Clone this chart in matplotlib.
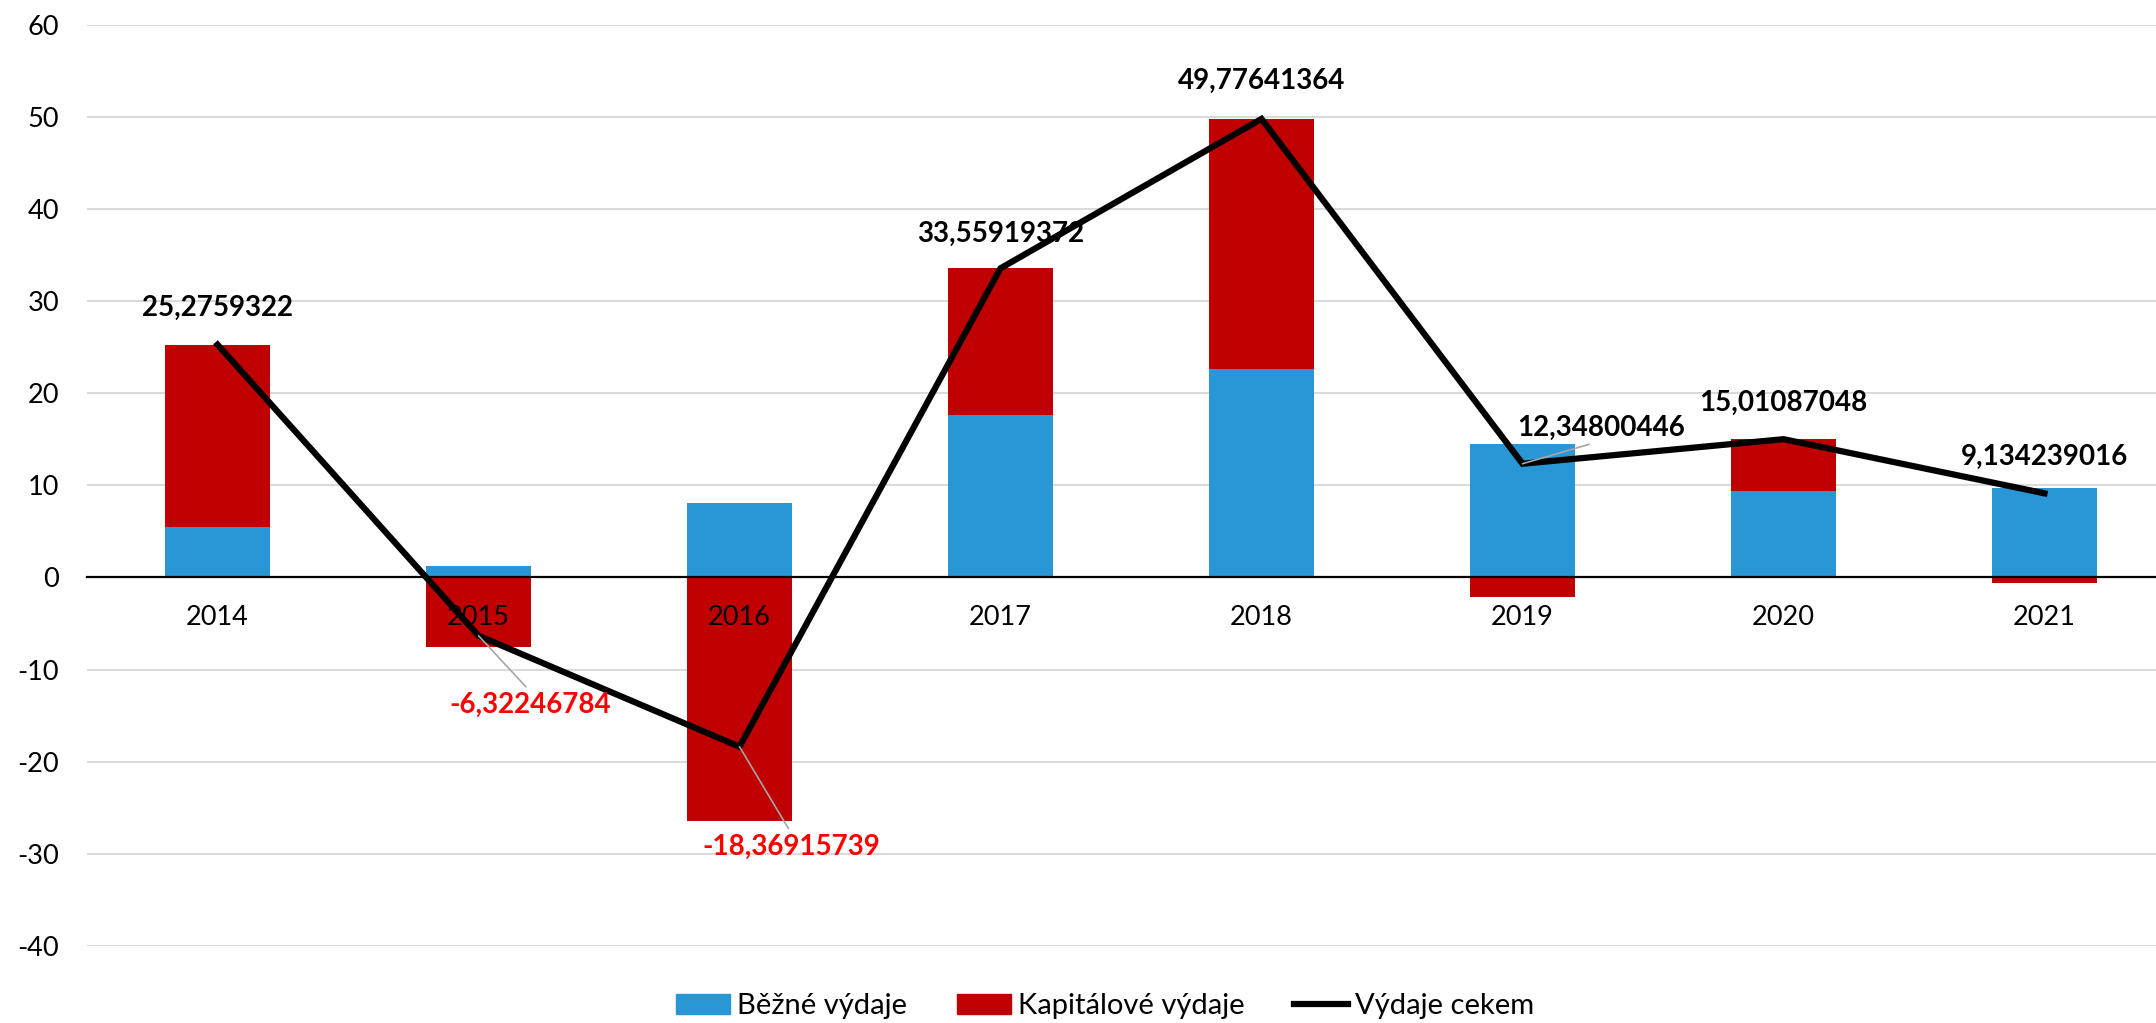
import numpy as np
import matplotlib.pyplot as plt
from matplotlib.patches import Patch
from matplotlib.lines import Line2D

plt.rcParams['font.family'] = ['Lato', 'DejaVu Sans']
plt.rcParams['axes.unicode_minus'] = False

years = ['2014', '2015', '2016', '2017', '2018', '2019', '2020', '2021']
bezne = [5.47, 1.25, 8.08, 17.6, 22.6, 14.47, 9.38, 9.74]
kapitalove = [19.81, -7.57, -26.45, 15.96, 27.18, -2.12, 5.63, -0.61]
celkem = [25.2759322, -6.32246784, -18.36915739, 33.55919372, 49.77641364,
          12.34800446, 15.01087048, 9.134239016]

# label centre offsets from the point, in pixels
offsets = [(0, 37), (52, -69), (52, -100), (0, 34), (0, 38), (79, 36), (0, 36), (0, 36)]
leaders = {1: (0.5, 1.0), 2: (0.5, 1.0), 5: (0.5, 0.0)}

blue = '#2997d5'
red = '#c00000'

fig = plt.figure(figsize=(21.56, 10.23), dpi=100)
ax = fig.add_axes([87 / 2156, 1 - 946 / 1023, 1 - 87 / 2156, (946 - 24.7) / 1023])

x = np.arange(len(years))
b = np.array(bezne)
k = np.array(kapitalove)
k_bottom = np.where(k > 0, b, 0)

ax.bar(x, b, width=0.4, color=blue, zorder=2)
ax.bar(x, k, width=0.4, bottom=k_bottom, color=red, zorder=2)
ax.plot(x, celkem, color='black', lw=4.5, zorder=4, solid_joinstyle='miter')

for i, v in enumerate(celkem):
    txt = str(v).replace('.', ',')
    col = '#ff0000' if v < 0 else 'black'
    dx, dy = offsets[i]
    if i in leaders:
        ax.annotate(txt, (x[i], v), xytext=(dx, dy), textcoords='offset pixels',
                    ha='center', va='center', fontsize=20, fontweight='bold', color=col,
                    zorder=5,
                    arrowprops=dict(arrowstyle='-', color='#a6a6a6', lw=1.2,
                                    shrinkA=2, shrinkB=0, relpos=leaders[i]))
    else:
        ax.annotate(txt, (x[i], v), xytext=(dx, dy), textcoords='offset pixels',
                    ha='center', va='center', fontsize=20, fontweight='bold', color=col,
                    zorder=5)

ax.set_xlim(-0.5, -0.5 + (2156 - 87) / 261)
ax.set_ylim(-40, 60)
ax.set_yticks(range(-40, 61, 10))
ax.set_xticks(x)
ax.set_xticklabels(years)
ax.yaxis.grid(True, color='#d9d9d9', lw=1.4, zorder=0)
ax.set_axisbelow(True)
ax.xaxis.set_zorder(3)  # year labels sit on top of the bars

for s in ['top', 'right', 'left']:
    ax.spines[s].set_visible(False)
ax.spines['bottom'].set_position(('data', 0))
ax.spines['bottom'].set_color('black')
ax.spines['bottom'].set_linewidth(1.6)
ax.spines['bottom'].set_zorder(3)
ax.tick_params(axis='both', length=0, labelsize=19.5)
ax.tick_params(axis='x', pad=20)
ax.tick_params(axis='y', pad=20)

handles = [Patch(color=blue, label='Běžné výdaje'),
           Patch(color=red, label='Kapitálové výdaje'),
           Line2D([0], [0], color='black', lw=4.5, label='Výdaje cekem')]
fig.legend(handles=handles, loc='center', bbox_to_anchor=(0.5126, 0.0166), ncol=3,
           frameon=False, fontsize=21, handlelength=1.85, handletextpad=0.25,
           columnspacing=1.7)

fig.savefig('out.png', dpi=100)
